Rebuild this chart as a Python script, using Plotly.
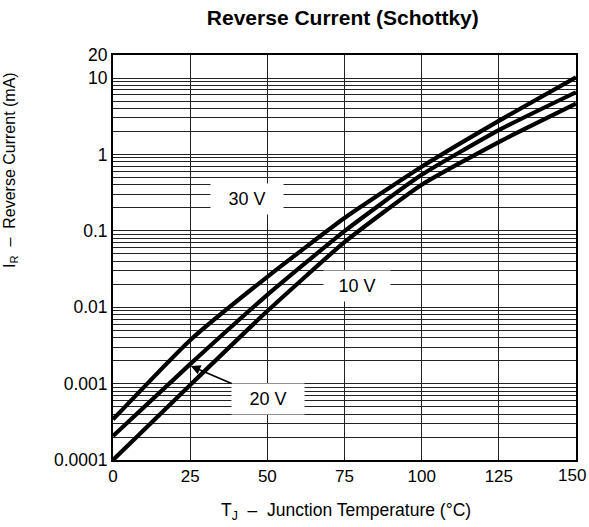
import math
import plotly.graph_objects as go

# Data
temp_c = [0, 25, 50, 75, 100, 125, 150]
ir_30v = [3.4e-4, 3.7e-3, 0.025, 0.147, 0.69, 2.75, 10.2]
ir_20v = [2.06e-4, 1.8e-3, 0.0145, 0.099, 0.54, 2.08, 6.5]
ir_10v = [1.0e-4, 9.6e-4, 0.0089, 0.071, 0.40, 1.45, 4.6]

series_names = ["30 V", "20 V", "10 V"]
x_ticks = [0, 25, 50, 75, 100, 125, 150]
x_tick_text = ["0", "25", "50", "75", "100", "125", "150"]
y_major = [0.0001, 0.001, 0.01, 0.1, 1, 10, 20]
y_major_text = ["0.0001", "0.001", "0.01", "0.1", "1", "10", "20"]

# gridline values: every 1..9 x decade plus 20
y_grid = []
for e in range(-4, 2):
    for m in range(1, 10):
        v = m * 10 ** e
        if v <= 20:
            y_grid.append(v)
y_grid.append(20)
y_grid = sorted(set(round(v, 10) for v in y_grid))
y_text = []
for v in y_grid:
    lab = ""
    for mv, mt in zip(y_major, y_major_text):
        if abs(v - mv) / mv < 1e-6:
            lab = mt
    y_text.append(lab)

FONT = "Liberation Sans, Arial, Helvetica, sans-serif"

fig = go.Figure()
for name, ys in zip(series_names, [ir_30v, ir_20v, ir_10v]):
    fig.add_trace(go.Scatter(x=temp_c, y=ys, mode="lines", name=name,
                             line=dict(color="black", width=4.2, shape="spline", smoothing=0.5),
                             showlegend=False, hoverinfo="skip"))

# the last x label is drawn as an annotation so it can sit inside the page edge
x_axis_text = x_tick_text[:-1] + [""]

fig.update_layout(
    width=589, height=527,
    margin=dict(l=113, r=13, t=55, b=67),
    paper_bgcolor="white", plot_bgcolor="white",
    font=dict(family=FONT, size=16, color="black"),
    title=dict(text="<b>Reverse Current (Schottky)</b>", x=0.582, xanchor="center",
               y=0.966, yanchor="middle", font=dict(size=21, family=FONT)),
    xaxis=dict(range=[0, 150], tickvals=x_ticks, ticktext=x_axis_text,
               showgrid=True, gridcolor="#222", gridwidth=1.2, zeroline=False,
               showline=True, linecolor="black", linewidth=2, mirror=True,
               ticks="", tickfont=dict(size=17), automargin=False,
               ticklabeloverflow="allow"),
    yaxis=dict(type="log", range=[-4, math.log10(20)], tickvals=y_grid, ticktext=y_text,
               showgrid=True, gridcolor="#222", gridwidth=1.2, zeroline=False,
               showline=True, linecolor="black", linewidth=2, mirror=True,
               ticks="", tickfont=dict(size=17.5), automargin=False,
               ticklabeloverflow="allow"),
)

fig.add_annotation(text=x_tick_text[-1], x=x_ticks[-1], xref="x", yref="paper", y=-0.0395,
                   xanchor="center", yanchor="middle", xshift=-4, showarrow=False,
                   font=dict(size=17))

# axis titles
fig.add_annotation(text="I<sub>R</sub>  –  Reverse Current (mA)", xref="paper", yref="paper",
                   x=-0.2225, y=0.716, textangle=-90, showarrow=False,
                   xanchor="center", yanchor="middle", font=dict(size=16))
fig.add_annotation(text="T<sub>J</sub>  –  Junction Temperature (°C)", xref="paper", yref="paper",
                   x=0.503, y=-0.126, showarrow=False, xanchor="center", yanchor="middle",
                   font=dict(size=17.5))

# curve labels
fig.add_annotation(text="30 V", x=43.5, y=-0.588, showarrow=False, bgcolor="white",
                   width=70, height=28, font=dict(size=18))
fig.add_annotation(text="10 V", x=79.1, y=-1.723, showarrow=False, bgcolor="white",
                   width=64, height=28, font=dict(size=18))
fig.add_annotation(text="20 V", x=25.2, y=math.log10(0.0017), ax=77, ay=33,
                   showarrow=True, arrowhead=2, arrowsize=1.2, arrowwidth=1.6,
                   arrowcolor="black", bgcolor="white", width=70, height=28,
                   font=dict(size=18))

fig.write_html("out.html", config={"displayModeBar": False},
               post_script="document.body.style.margin='0';")
